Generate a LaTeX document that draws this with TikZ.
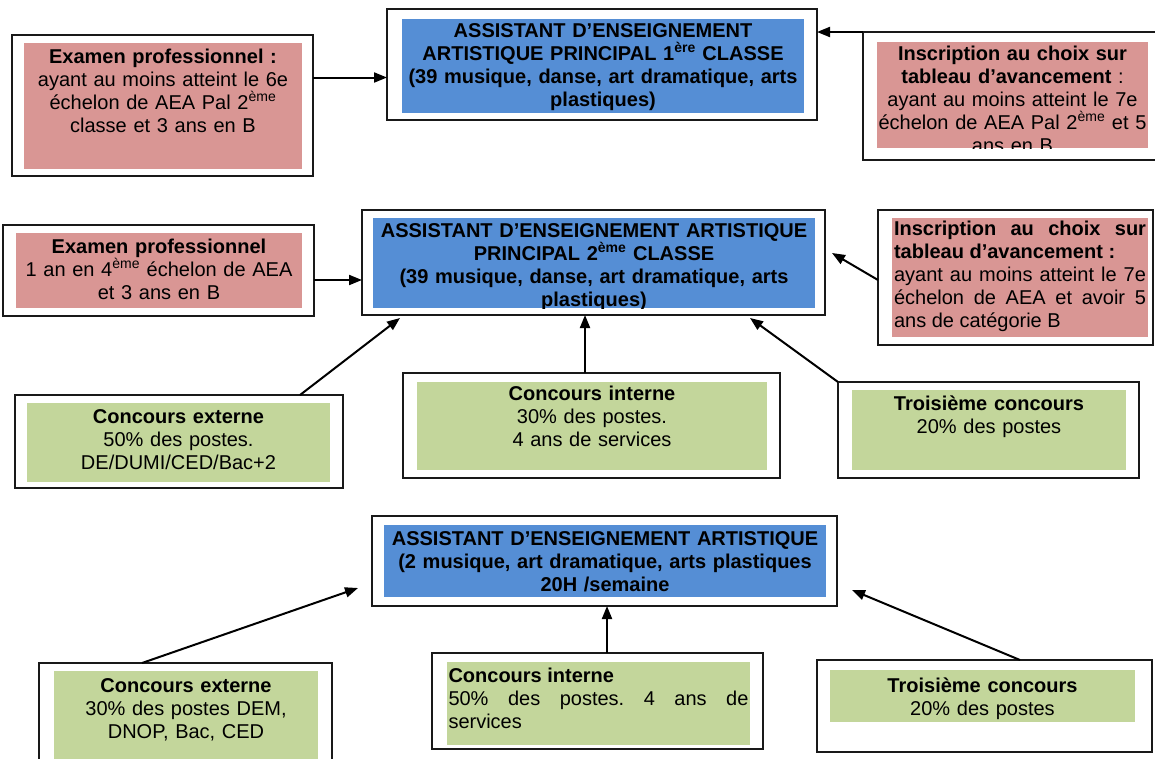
\documentclass[tikz,border=0pt]{standalone}
\usepackage{fontspec}
\setmainfont{Liberation Sans}
\frenchspacing
\usetikzlibrary{arrows.meta}

\definecolor{aeared}{HTML}{D99694}
\definecolor{aeablue}{HTML}{558ED5}
\definecolor{aeagreen}{HTML}{C3D69B}

\tikzset{
  frame/.style={draw=black!90, line width=1.8pt, fill=white, inner sep=0pt, outer sep=0pt},
  redbg/.style={fill=aeared, inner sep=0pt},
  bluebg/.style={fill=aeablue, inner sep=0pt},
  greenbg/.style={fill=aeagreen, inner sep=0pt},
  txt/.style={anchor=base, inner sep=0pt, align=center, font=\fontsize{20}{23}\selectfont},
  link/.style={-{Triangle[length=13pt,width=10pt]}, line width=2pt},
}

\begin{document}
\begin{tikzpicture}[x=1pt, y=-1pt]
    \clip (0,0) rectangle (1155,758);

    % top grade
    \node[frame, minimum width=430pt, minimum height=111pt] (grade1) at (602,64.5) {};
    \node[bluebg, minimum width=402pt, minimum height=94pt] (grade1bg) at (603,66) {};
    \node[txt, text width=400pt, font=\fontsize{20}{23}\selectfont\bfseries] (grade1txt) at (603,37.5)
        {ASSISTANT D’ENSEIGNEMENT\\ARTISTIQUE PRINCIPAL 1\textsuperscript{ère} CLASSE\\(39 musique, danse, art dramatique, arts\\plastiques)};

    \node[frame, minimum width=301pt, minimum height=141pt] (exam1) at (162.5,105.5) {};
    \node[redbg, minimum width=278pt, minimum height=126pt] (exam1bg) at (163,106) {};
    \node[txt, text width=270pt] (exam1txt) at (163,63)
        {\textbf{Examen professionnel :}\\ayant au moins atteint le 6e\\échelon de AEA Pal 2\textsuperscript{ème}\\classe et 3 ans en B};

    \node[frame, minimum width=297pt, minimum height=128pt] (tab1) at (1011.5,96) {};
    \node[redbg, minimum width=271pt, minimum height=106pt] (tab1bg) at (1012.5,95) {};
    \begin{scope}
        \clip (tab1bg.south west) rectangle (tab1bg.north east);
        \node[txt, text width=268pt] (tab1txt) at (1012.5,60)
            {\textbf{Inscription au choix sur}\\\textbf{tableau d’avancement} :\\ayant au moins atteint le 7e\\échelon de AEA Pal 2\textsuperscript{ème} et 5\\ans en B};
    \end{scope}

    % middle grade
    \node[frame, minimum width=463pt, minimum height=105pt] (grade2) at (593.5,262.5) {};
    \node[bluebg, minimum width=442pt, minimum height=90pt] (grade2bg) at (594,263) {};
    \begin{scope}
        \clip (grade2bg.south west) rectangle (grade2bg.north east);
        \node[txt, text width=440pt, font=\fontsize{20}{23}\selectfont\bfseries] (grade2txt) at (594,237)
            {ASSISTANT D’ENSEIGNEMENT ARTISTIQUE\\PRINCIPAL 2\textsuperscript{ème} CLASSE\\(39 musique, danse, art dramatique, arts\\plastiques)};
    \end{scope}

    \node[frame, minimum width=311pt, minimum height=91pt] (exam2) at (158.5,270.5) {};
    \node[redbg, minimum width=286pt, minimum height=75pt] (exam2bg) at (159,270.5) {};
    \node[txt, text width=280pt] (exam2txt) at (159,253)
        {\textbf{Examen professionnel}\\1 an en 4\textsuperscript{ème} échelon de AEA\\et 3 ans en B};

    \node[frame, minimum width=275pt, minimum height=135pt] (tab2) at (1015.5,277.5) {};
    \node[redbg, minimum width=256pt, minimum height=119pt] (tab2bg) at (1020,277.5) {};
    \node[txt, text width=252pt, align=justify] (tab2txt) at (1020,235)
        {\textbf{Inscription au choix sur\linebreak tableau d’avancement :}\newline ayant au moins atteint le 7e\linebreak échelon de AEA et avoir 5\linebreak ans de catégorie B};

    \node[frame, minimum width=328pt, minimum height=93pt] (ext2) at (179,441.5) {};
    \node[greenbg, minimum width=303pt, minimum height=79pt] (ext2bg) at (178.5,442.5) {};
    \node[txt, text width=295pt] (ext2txt) at (178.5,423)
        {\textbf{Concours externe}\\50\% des postes.\\DE/DUMI/CED/Bac+2};

    \node[frame, minimum width=377pt, minimum height=105pt] (int2) at (591.5,425.5) {};
    \node[greenbg, minimum width=350pt, minimum height=88pt] (int2bg) at (592,426) {};
    \node[txt, text width=340pt] (int2txt) at (592,400)
        {\textbf{Concours interne}\\30\% des postes.\\4 ans de services};

    \node[frame, minimum width=301pt, minimum height=96pt] (third2) at (988.5,430) {};
    \node[greenbg, minimum width=274pt, minimum height=80pt] (third2bg) at (989,430) {};
    \node[txt, text width=270pt] (third2txt) at (989,410)
        {\textbf{Troisième concours}\\20\% des postes};

    % bottom grade
    \node[frame, minimum width=465pt, minimum height=90pt] (grade3) at (604.5,561) {};
    \node[bluebg, minimum width=442pt, minimum height=72pt] (grade3bg) at (605,561) {};
    \node[txt, text width=440pt, font=\fontsize{20}{23}\selectfont\bfseries] (grade3txt) at (605,545)
        {ASSISTANT D’ENSEIGNEMENT ARTISTIQUE\\(2 musique, art dramatique, arts plastiques\\20H /semaine};

    \node[frame, minimum width=293pt, minimum height=112pt] (ext3) at (185.5,719) {};
    \node[greenbg, minimum width=264pt, minimum height=99pt] (ext3bg) at (186,720.5) {};
    \node[txt, text width=260pt] (ext3txt) at (186,692)
        {\textbf{Concours externe}\\30\% des postes DEM,\\DNOP, Bac, CED};

    \node[frame, minimum width=331pt, minimum height=96pt] (int3) at (597.5,701) {};
    \node[greenbg, minimum width=303pt, minimum height=83pt] (int3bg) at (598.5,703.5) {};
    \node[txt, text width=300pt, align=justify] (int3txt) at (598.5,682)
        {\textbf{Concours interne}\newline 50\% des postes. 4 ans de\linebreak services};

    \node[frame, minimum width=335pt, minimum height=92pt] (third3) at (984.5,706) {};
    \node[greenbg, minimum width=305pt, minimum height=52pt] (third3bg) at (982.5,696) {};
    \node[txt, text width=300pt] (third3txt) at (982.5,692)
        {\textbf{Troisième concours}\\20\% des postes};

    % arrows
    \draw[link] ([yshift=28pt]exam1.east) -- ([yshift=28pt]exam1.east -| grade1.west);
    \draw[link] (tab1.north west) -- (tab1.north west -| grade1.east);
    \draw[link] ([yshift=-9.5pt]exam2.east) -- ([yshift=-9.5pt]exam2.east -| grade2.west);
    \draw[link] ([yshift=-2.5pt]tab2.west) -- ([xshift=7pt,yshift=9.5pt]grade2.east);
    \draw[link] ([xshift=121pt]ext2.north) -- ([xshift=38pt,yshift=-3pt]grade2.south west);
    \draw[link] ([xshift=-6.5pt]int2.north) -- ([xshift=-6.5pt]int2.north |- grade2.south);
    \draw[link] (third2.north west) -- ([xshift=-75pt,yshift=-3pt]grade2.south east);
    \draw[link] ([xshift=-43.5pt]ext3.north) -- ([xshift=-14pt,yshift=18pt]grade3.south west);
    \draw[link] ([xshift=9.5pt]int3.north) -- ([xshift=9.5pt]int3.north |- grade3.south);
    \draw[link] ([xshift=35.5pt]third3.north) -- ([xshift=15pt,yshift=16pt]grade3.south east);
\end{tikzpicture}
\end{document}
